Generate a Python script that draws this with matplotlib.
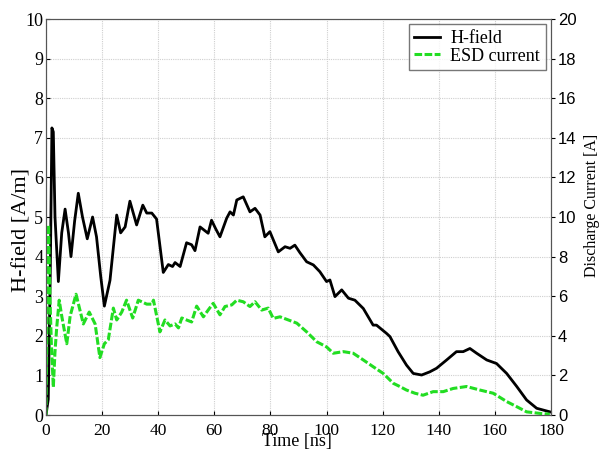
import numpy as np
import matplotlib
matplotlib.use("Agg")
import matplotlib.pyplot as plt

# H-field [A/m]
t_h = [0, 0.8, 1.5, 2.1, 2.6, 3.2, 4.4, 5.6, 6.8, 8.0, 8.9, 10.2, 11.5, 13.0, 14.7, 16.6,
       18.0, 19.5, 20.8, 22.8, 25.2, 26.6, 28.2, 29.9, 32.3, 34.5, 35.9, 37.7, 39.4,
       41.8, 43.6, 45.1, 46.0, 47.8, 50.1, 51.9, 53.1, 54.9, 57.8, 59.0, 60.5, 62.0,
       64.4, 65.6, 66.8, 68.0, 70.3, 72.7, 74.5, 76.3, 78.0, 79.8, 82.8, 85.2, 87.0,
       88.7, 90.5, 92.9, 95.3, 97.6, 100.0, 101.2, 103.0, 105.4, 107.8, 110.1, 113.1,
       116.6, 117.8, 121.4, 122.6, 125.5, 128.5, 130.9, 133.9, 136.8, 139.2, 142.8,
       146.3, 148.7, 151.1, 153.5, 157.1, 160.6, 164.2, 167.8, 171.3, 174.9, 179.6]
h_field = [0, 0.4, 3.5, 7.25, 7.15, 5.0, 3.37, 4.6, 5.2, 4.6, 4.0, 4.9, 5.6, 5.0, 4.45, 5.0,
           4.5, 3.5, 2.75, 3.4, 5.05, 4.6, 4.75, 5.4, 4.8, 5.3, 5.1, 5.1, 4.95,
           3.6, 3.8, 3.75, 3.85, 3.75, 4.35, 4.3, 4.15, 4.75, 4.59, 4.92, 4.7, 4.5,
           4.97, 5.13, 5.05, 5.43, 5.51, 5.13, 5.22, 5.05, 4.5, 4.63, 4.12, 4.25, 4.21,
           4.29, 4.1, 3.87, 3.79, 3.62, 3.37, 3.41, 2.99, 3.16, 2.95, 2.9, 2.69,
           2.27, 2.27, 2.06, 1.98, 1.6, 1.26, 1.05, 1.01, 1.09, 1.18, 1.39,
           1.6, 1.6, 1.68, 1.56, 1.39, 1.3, 1.05, 0.72, 0.38, 0.17, 0.08]

# ESD current [A]
t_i = [0, 0.5, 0.9, 1.4, 1.9, 2.6, 3.2, 3.8, 4.7, 5.6, 7.4, 8.6, 10.7, 13.3, 15.4, 17.5,
       19.2, 20.8, 22.2, 24.0, 25.2, 27.0, 28.7, 30.9, 32.9, 35.9, 37.7, 38.3, 40.6,
       42.4, 44.2, 46.0, 47.2, 48.4, 50.1, 51.9, 53.7, 56.1, 57.8, 59.6, 62.0, 63.8,
       66.2, 68.0, 70.3, 72.7, 74.5, 76.9, 79.2, 81.0, 83.4, 86.4, 89.4, 92.9, 96.5,
       100.0, 102.4, 106.0, 109.5, 113.1, 116.6, 120.2, 123.8, 126.1, 128.5, 131.5,
       134.4, 138.0, 141.6, 145.1, 149.9, 154.7, 159.4, 164.2, 167.8, 171.3, 176.1, 179.6]
esd_current = [0, 7.0, 9.6, 6.0, 3.6, 1.4, 3.2, 4.4, 5.8, 5.0, 3.6, 5.0, 6.1, 4.6, 5.2, 4.6,
               2.9, 3.6, 3.8, 5.4, 4.8, 5.2, 5.8, 4.9, 5.8, 5.6, 5.6, 5.8, 4.2,
               4.8, 4.5, 4.6, 4.4, 4.9, 4.8, 4.7, 5.5, 4.96, 5.3, 5.64, 5.06, 5.48,
               5.56, 5.8, 5.72, 5.48, 5.72, 5.3, 5.4, 4.88, 4.96, 4.8, 4.64, 4.2, 3.7,
               3.44, 3.12, 3.2, 3.12, 2.78, 2.44, 2.1, 1.6, 1.44, 1.26, 1.1,
               1.0, 1.18, 1.18, 1.34, 1.44, 1.26, 1.1, 0.68, 0.42, 0.16, 0.08, 0.04]

serif = "Liberation Serif"
sans = "Liberation Sans"

fig = plt.figure(figsize=(6, 4.51), dpi=100)
ax = fig.add_axes([0.0767, 0.0798, 0.8416, 0.878])
ax2 = ax.twinx()

l1, = ax.plot(t_h, h_field, color="black", lw=2.0)
l2, = ax2.plot(t_i, esd_current, color="#22dd22", lw=2.2, ls=(0, (2.5, 0.8)))

ax.set_xlim(0, 180)
ax.set_ylim(0, 10)
ax2.set_ylim(0, 20)
ax.set_xticks(np.arange(0, 181, 20))
ax.set_yticks(np.arange(0, 11, 1))
ax2.set_yticks(np.arange(0, 21, 2))

ax.grid(True, color="#cfcfcf", ls=(0, (1, 1)), lw=0.8)
ax.tick_params(direction="in", length=3, labelsize=13, pad=2)
ax.tick_params(axis="x", labelsize=12.5, pad=6)
ax2.tick_params(direction="out", length=3, labelsize=12, pad=2)
for lab in ax.get_xticklabels() + ax.get_yticklabels():
    lab.set_fontfamily(serif)
for lab in ax2.get_yticklabels():
    lab.set_fontfamily(sans)

for a in (ax, ax2):
    for s in a.spines.values():
        s.set_color("#555555")
        s.set_linewidth(0.8)

ax.set_xlabel("Time [ns]", fontsize=13, family=serif, va="center")
ax.xaxis.set_label_coords(0.497, -0.068)
ax.set_ylabel("H-field [A/m]", fontsize=16, family=serif, va="center")
ax.yaxis.set_label_coords(-0.048, 0.467)
ax2.set_ylabel("Discharge Current [A]", fontsize=11.5, family=serif, va="center")
ax2.yaxis.set_label_coords(1.081, 0.53)

leg = ax2.legend([l1, l2], ["H-field", "ESD current"], loc="upper right",
                 prop={"family": serif, "size": 13}, fancybox=False,
                 handlelength=1.4, handletextpad=0.6, borderaxespad=0.3,
                 labelspacing=0.05, borderpad=0.3)
leg.get_frame().set_edgecolor("#555555")

fig.savefig("out.png", dpi=100)
